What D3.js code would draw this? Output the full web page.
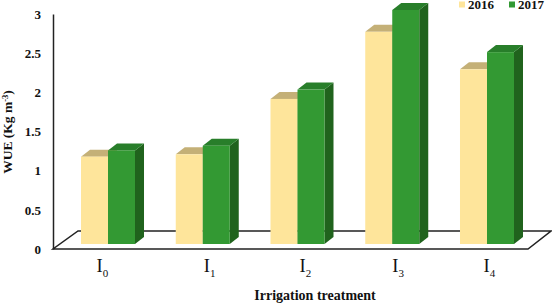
<!DOCTYPE html>
<html>
<head>
<meta charset="utf-8">
<script src="https://cdn.jsdelivr.net/npm/d3@7"></script>
<style>
  html, body { margin: 0; padding: 0; background: #fff; }
  text { font-family: "Liberation Serif", serif; fill: #111; }
</style>
</head>
<body>
<div id="chart"></div>
<script>
const categories = ['0', '1', '2', '3', '4'];
const years = ['2016', '2017'];
const values2016 = [1.12, 1.15, 1.86, 2.72, 2.24];
const values2017 = [1.2, 1.26, 1.98, 3.0, 2.46];
const yTicks = [0, 0.5, 1, 1.5, 2, 2.5, 3];

const width = 552, height = 305;
const depth = { x: 9, y: 7 };

// bar fronts sit forward of the axis plane, so they get their own scale
const yAxisScale = d3.scaleLinear().domain([0, 3]).range([249, 14]);
const yBar = d3.scaleLinear().domain([0, 3]).range([244, 10]);

const x0 = d3.scaleBand().domain(categories).range([81, 514]).paddingInner(0.43).paddingOuter(0);
const x1 = d3.scaleBand().domain(years).range([0, x0.bandwidth()]);

const colors = {
  2016: { front: '#fee59b', top: '#c4b077', side: '#c4b077' },
  2017: { front: '#339933', top: '#287e2a', side: '#20631d' }
};

const svg = d3.select('#chart').append('svg')
  .attr('width', width)
  .attr('height', height)
  .style('display', 'block');

// floor
const floorLeft = 53, floorRight = 528, floorY = yAxisScale(0), floorBack = 231, skew = 24;
svg.append('path')
  .attr('d', `M${floorLeft},${floorY}L${floorRight},${floorY}L${floorRight + skew - 1},${floorBack}L${floorLeft + skew + 1},${floorBack}Z`)
  .attr('fill', '#fff')
  .attr('stroke', '#222')
  .attr('stroke-width', 1.5);

// y axis
const yAxis = svg.append('g')
  .attr('transform', `translate(${floorLeft},0)`)
  .call(d3.axisLeft(yAxisScale).tickValues(yTicks).tickSize(0).tickPadding(12).tickFormat(d3.format('')));
yAxis.select('.domain').attr('stroke', '#222').attr('stroke-width', 1.5);
yAxis.selectAll('text')
  .attr('font-size', 13)
  .attr('font-weight', 'bold')
  .style('font-family', '"Liberation Serif", serif');

// bars
function drawBars(year, vals) {
  const c = colors[year];
  const g = svg.append('g');
  categories.forEach((cat, i) => {
    const x = x0(cat) + x1(year);
    const w = x1.bandwidth();
    const top = yBar(vals[i]);
    const base = yBar(0);
    g.append('path')
      .attr('d', `M${x + w},${top}L${x + w + depth.x},${top - depth.y}L${x + w + depth.x},${base - depth.y}L${x + w},${base}Z`)
      .attr('fill', c.side);
    g.append('path')
      .attr('d', `M${x},${top}L${x + depth.x},${top - depth.y}L${x + w + depth.x},${top - depth.y}L${x + w},${top}Z`)
      .attr('fill', c.top);
    g.append('rect')
      .attr('x', x).attr('y', top)
      .attr('width', w).attr('height', base - top)
      .attr('fill', c.front);
  });
}
drawBars('2016', values2016);
drawBars('2017', values2017);

// category labels, the original has them placed by hand so they are not evenly spaced
const labelNudge = { 0: -11.5, 1: 1, 2: 2, 3: 0, 4: -3.5 };
const catLabels = svg.append('g').selectAll('text').data(categories).join('text')
  .attr('x', d => x0(d) + x0.bandwidth() / 2 + labelNudge[d])
  .attr('y', 272)
  .attr('font-size', 18.5);
catLabels.append('tspan').text('I');
catLabels.append('tspan')
  .attr('dy', 5)
  .attr('font-size', 11)
  .text(d => d);

// axis titles
svg.append('text')
  .attr('x', 315).attr('y', 300)
  .attr('text-anchor', 'middle')
  .attr('font-size', 14)
  .attr('font-weight', 'bold')
  .text('Irrigation treatment');

const yTitle = svg.append('text')
  .attr('transform', 'translate(12,132) rotate(-90)')
  .attr('text-anchor', 'middle')
  .attr('font-size', 13.5)
  .attr('font-weight', 'bold');
yTitle.append('tspan').text('WUE (Kg m');
yTitle.append('tspan').attr('dy', -4).attr('font-size', 8.5).text('-3');
yTitle.append('tspan').attr('dy', 4).text(')');

// legend
const legendX = { 2016: 459, 2017: 509 };
years.forEach(year => {
  svg.append('rect')
    .attr('x', legendX[year]).attr('y', 1.5)
    .attr('width', 6).attr('height', 6)
    .attr('fill', colors[year].front);
  svg.append('text')
    .attr('x', legendX[year] + 9).attr('y', 9)
    .attr('font-size', 13)
    .attr('font-weight', 'bold')
    .text(year);
});
</script>
</body>
</html>
